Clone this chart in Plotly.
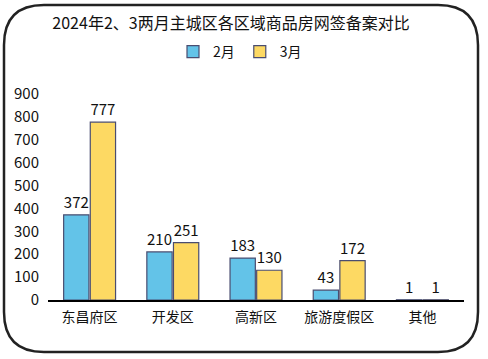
import plotly.graph_objects as go

categories = ["东昌府区", "开发区", "高新区", "旅游度假区", "其他"]
feb = [372, 210, 183, 43, 1]
mar = [777, 251, 130, 172, 1]
y_ticks = [0, 100, 200, 300, 400, 500, 600, 700, 800, 900]

W, H = 488, 359
L, R, T, B = 48, 24, 94, 59
pw, ph = W - L - R, H - T - B

def px(x):
    return (x - L) / pw

def py(y):
    return (H - B - y) / ph

fig = go.Figure()
fig.add_bar(x=categories, y=feb, name="2月", marker=dict(color="#63C3E8", line=dict(color="#4A4D70", width=1.2)),
            text=feb, textposition="outside", textfont=dict(size=15, color="#111"), cliponaxis=False)
fig.add_bar(x=categories, y=mar, name="3月", marker=dict(color="#FDD963", line=dict(color="#4A4D70", width=1.2)),
            text=mar, textposition="outside", textfont=dict(size=15, color="#111"), cliponaxis=False)

# rounded frame
x0, y0, x1, y1, r = 4, 5, 478, 352, 40
path = (f"M {px(x0+r)},{py(y0)} L {px(x1-r)},{py(y0)} Q {px(x1)},{py(y0)} {px(x1)},{py(y0+r)} "
        f"L {px(x1)},{py(y1-r)} Q {px(x1)},{py(y1)} {px(x1-r)},{py(y1)} "
        f"L {px(x0+r)},{py(y1)} Q {px(x0)},{py(y1)} {px(x0)},{py(y1-r)} "
        f"L {px(x0)},{py(y0+r)} Q {px(x0)},{py(y0)} {px(x0+r)},{py(y0)} Z")

fig.update_layout(
    width=W, height=H,
    margin=dict(l=L, r=R, t=T, b=B),
    paper_bgcolor="white", plot_bgcolor="white",
    font=dict(family="Noto Sans CJK SC, sans-serif", size=14, color="#111"),
    title=dict(text="2024年2、3两月主城区各区域商品房网签备案对比", x=231 / W, xanchor="center",
               y=1 - 23 / H, yanchor="middle", font=dict(size=16)),
    legend=dict(orientation="h", x=px(240), xanchor="center", y=py(52), yanchor="middle",
                font=dict(size=14), itemwidth=30, bgcolor="rgba(0,0,0,0)"),
    bargap=0.36, bargroupgap=0.05,
    xaxis=dict(showline=True, linecolor="black", linewidth=1.5, ticks="", tickfont=dict(size=14),
               ticklabelstandoff=3),
    yaxis=dict(range=[0, 900], tickvals=y_ticks, showgrid=False, zeroline=False, showline=False,
               tickfont=dict(size=15), ticklen=0, ticklabelstandoff=8),
    shapes=[dict(type="path", path=path, xref="paper", yref="paper",
                 line=dict(color="#222", width=2.5), layer="above")],
)

fig.write_html("out.html", config={"displayModeBar": False},
               post_script="document.body.style.margin='0';")
